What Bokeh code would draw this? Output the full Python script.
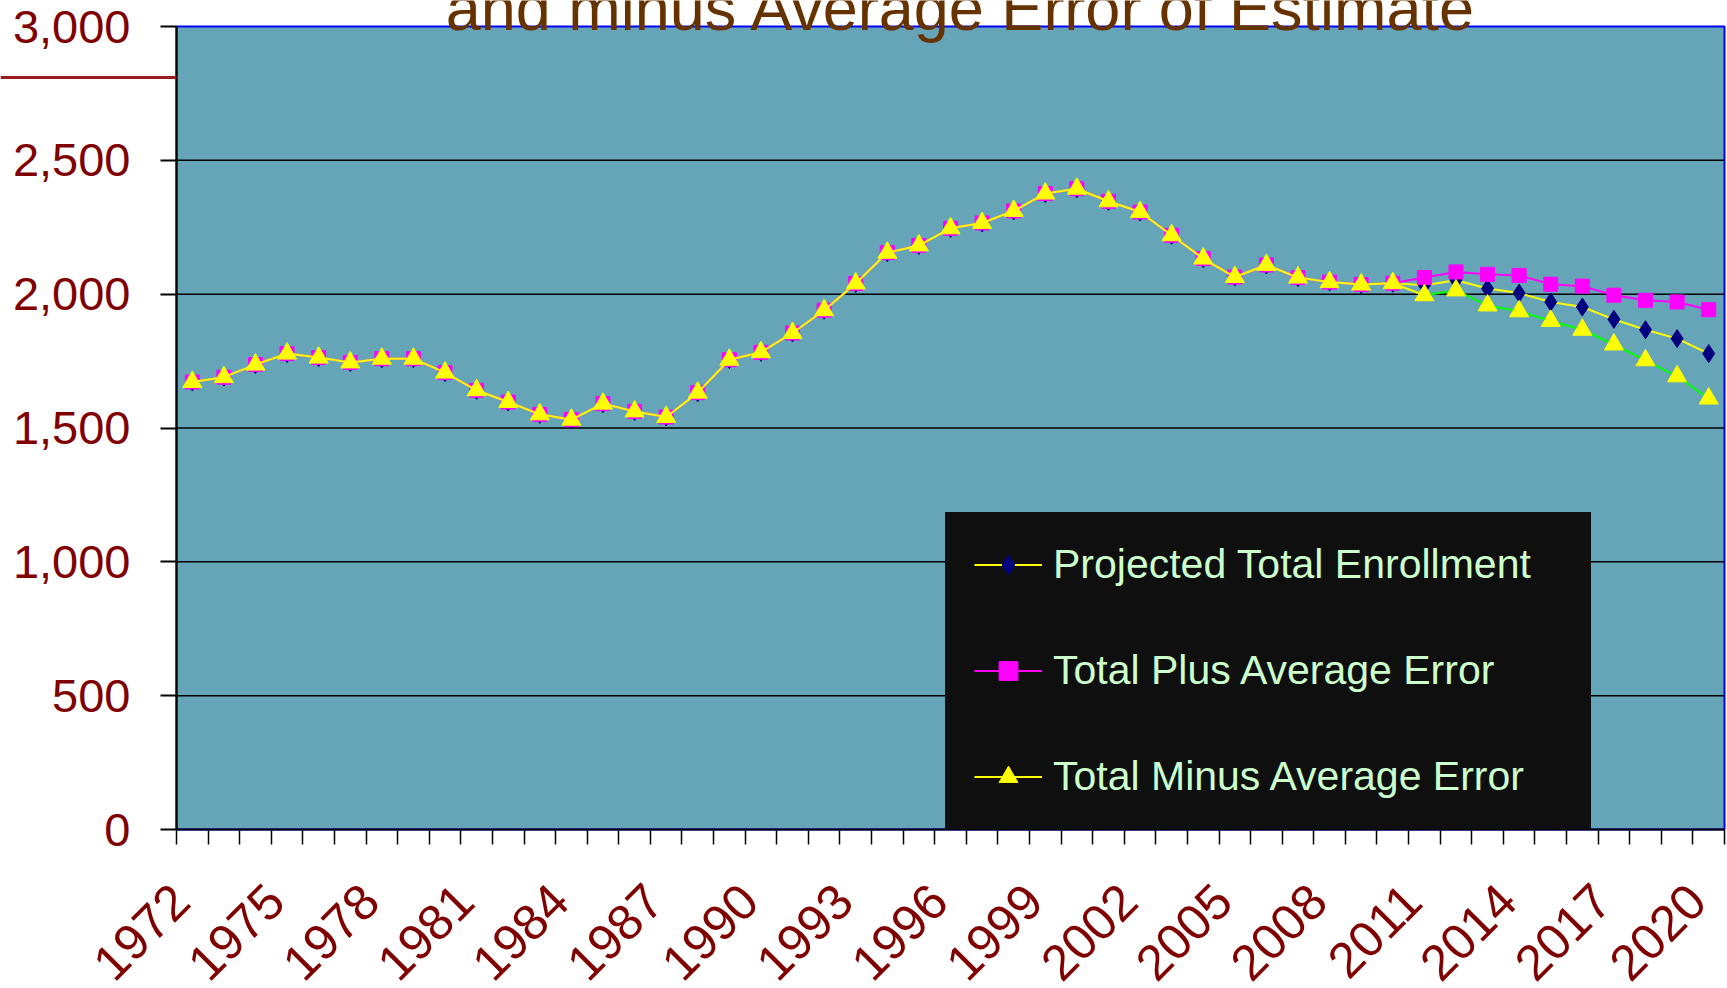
import math
from bokeh.plotting import figure
from bokeh.models import (FixedTicker, NumeralTickFormatter, Legend, LegendItem,
                          Label, LinearAxis, Range1d, BoxAnnotation)
from bokeh.embed import file_html
from bokeh.resources import INLINE

# ---------------- data ----------------
years = list(range(1972, 2021))
historical = [1672, 1690, 1737, 1778, 1763, 1745, 1759, 1759, 1707, 1641,
              1597, 1551, 1531, 1591, 1562, 1541, 1632, 1755, 1783, 1855,
              1940, 2040, 2155, 2182, 2246, 2266, 2311, 2376, 2394, 2347,
              2307, 2220, 2133, 2064, 2109, 2062, 2045, 2036, 2041]   # 1972-2010
projected_future = [2033, 2052, 2021, 2004, 1971, 1952, 1906, 1867, 1834, 1778]  # 2011-2020
plus_future = [2062, 2083, 2074, 2070, 2037, 2030, 1996, 1977, 1971, 1942]
minus_future = [1996, 2014, 1958, 1936, 1900, 1867, 1812, 1753, 1693, 1610]
label_years = list(range(1972, 2021, 3))
y_ticks = [0, 500, 1000, 1500, 2000, 2500, 3000]
title_text = "and minus Average Error of Estimate"
series_names = ["Projected Total Enrollment", "Total Plus Average Error",
                "Total Minus Average Error"]

projected = historical + projected_future
plus = historical + plus_future
minus = historical + minus_future
n_hist = len(historical)

# ---------------- layout (pixels) ----------------
W, H = 1727, 988
AREA_L, AREA_R, AREA_T, AREA_B = 176, 1724, 26, 829   # plot-area edges on canvas

x_lo, x_hi = years[0] - 0.5, years[-1] + 0.5
y_lo, y_hi = y_ticks[0], y_ticks[-1]
ppx = (AREA_R - AREA_L) / (x_hi - x_lo)           # px per year
ppy = (AREA_B - AREA_T) / (y_hi - y_lo)           # px per unit
xr = Range1d(x_lo - AREA_L / ppx, x_hi + (W - AREA_R) / ppx)
yr = Range1d(y_lo - (H - AREA_B) / ppy, y_hi + AREA_T / ppy)

p = figure(width=W, height=H, output_backend="svg", toolbar_location=None,
           x_range=xr, y_range=yr, x_axis_location=None, y_axis_location=None,
           min_border=0)
p.background_fill_color = "white"
p.border_fill_color = "white"
p.outline_line_color = None
p.xgrid.visible = False
p.ygrid.visible = False

FONT = "Liberation Sans"
RED = "#800000"

# plot area with blue border
p.add_layout(BoxAnnotation(left=x_lo, right=x_hi, bottom=y_lo, top=y_hi,
                           fill_color="#66A5B8", fill_alpha=1,
                           line_color="#0000FF", line_alpha=1, line_width=2,
                           level="underlay"))

# horizontal grid lines
grid_vals = y_ticks[1:-1]
p.segment(x0=[x_lo] * len(grid_vals), y0=grid_vals, x1=[x_hi] * len(grid_vals),
          y1=grid_vals, line_color="black", line_width=1.5)

# y axis; its single long minor tick reproduces the dark-red rule at upper left
yax = LinearAxis(fixed_location=x_lo, bounds=(y_lo, y_hi),
                 ticker=FixedTicker(ticks=y_ticks, minor_ticks=[2810]),
                 formatter=NumeralTickFormatter(format="0,0"))
yax.major_label_text_font = FONT
yax.major_label_text_font_size = "47px"
yax.major_label_text_color = RED
yax.major_tick_out = 16
yax.major_tick_in = 0
yax.minor_tick_out = AREA_L
yax.minor_tick_in = 0
yax.minor_tick_line_color = "#991B1E"
yax.minor_tick_line_width = 3
yax.major_label_standoff = 30 - (AREA_L - 16)
yax.axis_line_color = "black"
yax.axis_line_width = 2
yax.major_tick_line_width = 2
p.add_layout(yax, "left")

# x axis: tick marks at year boundaries, rotated labels every 3rd year
boundaries = [y - 0.5 for y in years] + [years[-1] + 0.5]
shift = 0.375
xax = LinearAxis(fixed_location=y_lo, bounds=(x_lo, x_hi),
                 ticker=FixedTicker(ticks=[y - shift for y in label_years],
                                    minor_ticks=boundaries))
xax.major_label_overrides = {y - shift: str(y) for y in label_years}
xax.major_tick_out = 0
xax.major_tick_in = 0
xax.minor_tick_out = 15
xax.minor_tick_in = 0
xax.minor_tick_line_color = "black"
xax.minor_tick_line_width = 1.5
xax.major_label_orientation = math.pi / 4
xax.major_label_text_font = FONT
xax.major_label_text_font_size = "50px"
xax.major_label_text_color = RED
xax.major_label_standoff = 48
xax.axis_line_color = "black"
xax.axis_line_width = 2
p.add_layout(xax, "below")

# ---------------- series ----------------
YEL = "#FFFF00"
MAG = "#FF00FF"
NAVY = "#000080"
GRN = "#00FF00"

l1 = p.line(years, projected, line_color=YEL, line_width=2)
s1 = p.scatter(years, projected, marker="diamond", size=18, fill_color=NAVY,
               line_color=NAVY)
l2 = p.line(years, plus, line_color=MAG, line_width=2)
s2 = p.scatter(years, plus, marker="square", size=14, fill_color=MAG, line_color=MAG)
l3 = p.line(years[:n_hist + 1], minus[:n_hist + 1], line_color=YEL, line_width=2)
l3b = p.line(years[n_hist:], minus[n_hist:], line_color=GRN, line_width=2)
s3 = p.scatter(years, minus, marker="triangle", size=19, fill_color=YEL,
               line_color=YEL)

# title (second line visible, clipped at top as in the original)
p.add_layout(Label(x=1996.35, y=3070, text=title_text, text_align="center",
                   text_baseline="alphabetic", text_font=FONT,
                   text_font_size="63px", text_color="#663300"))

legend = Legend(items=[LegendItem(label=series_names[0], renderers=[l1, s1]),
                       LegendItem(label=series_names[1], renderers=[l2, s2]),
                       LegendItem(label=series_names[2], renderers=[l3, s3])],
                location=(945, H - AREA_B), margin=0, padding=29, spacing=59,
                glyph_width=68, glyph_height=47, label_height=47, label_width=509,
                label_standoff=11,
                background_fill_color="#0F0F0F", background_fill_alpha=1,
                border_line_alpha=0,
                label_text_color="#CCFFCC", label_text_font=FONT,
                label_text_font_size="41px")
p.add_layout(legend)

open("out.html", "w").write(file_html(p, INLINE))
